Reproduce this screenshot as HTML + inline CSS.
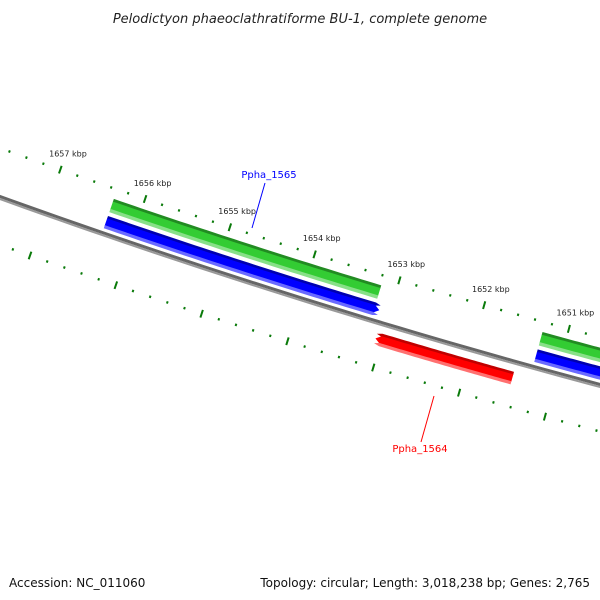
<!DOCTYPE html>
<html><head><meta charset="utf-8"><style>
body{margin:0;background:#fff;}
svg{display:block;font-family:"DejaVu Sans","Liberation Sans",sans-serif;}
</style></head><body>
<svg id="map" width="600" height="600" viewBox="0 0 600 600">
<text x="300" y="23" text-anchor="middle" font-size="13" font-style="italic" fill="#222">Pelodictyon phaeoclathratiforme BU-1, complete genome</text>
<g id="ticks"></g>
<g id="backbone"></g>
<g id="features"></g>
<text x="9" y="587" font-size="12" fill="#111">Accession: NC_011060</text>
<text x="590" y="587" text-anchor="end" font-size="12" fill="#111">Topology: circular; Length: 3,018,238 bp; Genes: 2,765</text>
</svg>
<script>
const majorTicks = [1657, 1656, 1655, 1654, 1653, 1652, 1651];
const tickRange = [1657.6, 1650.4];
const featStart = [1656.33, 1656.33, 1653.01, 1651.28, 1651.28];
const featEnd = [1653.18, 1653.18, 1651.47, 1650.0, 1650.0];
const featTrack = ['gene', 'cds', 'rev', 'gene', 'cds'];
const featNames = ['gene-1565', 'cds-Ppha_1565', 'cds-Ppha_1564', 'gene-1651', 'cds-1651'];
const NS='http://www.w3.org/2000/svg';
function bx(k){return 45+(1657-k)*85.3;}
function fy(x){return 197+0.36*x-0.000078*x*x;}
function slope(x){return 0.36-0.000156*x;}
function pt(k,d){const x=bx(k),s=slope(x),n=Math.sqrt(1+s*s);return [x+d*(-s)/n, fy(x)+d/n];}
function mk(tag,attrs,parent){const e=document.createElementNS(NS,tag);for(const a in attrs)e.setAttribute(a,attrs[a]);parent.appendChild(e);return e;}
const tg=document.getElementById('ticks');
for(let i=0;i<=Math.round((tickRange[0]-tickRange[1])*5);i++){
  const k=tickRange[0]-i*0.2, major=Math.abs(k-Math.round(k))<0.01;
  for(const d of [-46,45]){
    const h=major?4:1.2;const a=pt(k,d-h),b=pt(k,d+h);
    const l=mk('line',{x1:a[0],y1:a[1],x2:b[0],y2:b[1],stroke:'#0a7a0a','stroke-width':2},tg);
    
    
  }
}
majorTicks.forEach(k=>{const p=pt(k,-63);const t=mk('text',{x:p[0]+2,y:p[1]+3,'text-anchor':'middle','font-size':8,fill:'#222'},tg);t.textContent=k+' kbp';
  
  });
function band(k1,k2,d1,d2,fill,g,arrowL,arrowR){
  const pts=[],N=40;
  for(let i=0;i<=N;i++){const k=k1+(k2-k1)*i/N;pts.push(pt(k,d1));}
  if(arrowR){pts.push(pt(k2-0.06,(d1+d2)/2));}
  for(let i=N;i>=0;i--){const k=k1+(k2-k1)*i/N;pts.push(pt(k,d2));}
  if(arrowL){pts.push(pt(k1+0.06,(d1+d2)/2));}
  return mk('polygon',{points:pts.map(p=>p.join(',')).join(' '),fill:fill},g);
}
const bb=document.getElementById('backbone');
band(1657.6,1650.0,-2,1,'#666',bb);band(1657.6,1650.0,1,3,'#999',bb);
const fg=document.getElementById('features');
const styles={gene:{d:[-36,-22],c:['#228b22','#33cc33','#88e088']},cds:{d:[-18,-5],c:['#0000b0','#0000ff','#6a6aff']},rev:{d:[10,23],c:['#c00000','#ff0000','#ff7070']}};
featStart.forEach((s,i)=>{
  const st=styles[featTrack[i]],[d1,d2]=st.d,h=d2-d1;
  const g=mk('g',{},fg);
  
  
  const aL=featTrack[i]==='rev',aR=featTrack[i]==='cds'&&featEnd[i]>1650.5;
  band(s,featEnd[i],d1,d1+h*0.25,st.c[0],g,aL,aR);
  band(s,featEnd[i],d1+h*0.2,d2-h*0.2,st.c[1],g,aL,aR);
  band(s,featEnd[i],d2-h*0.25,d2,st.c[2],g,aL,aR);
});
const l1=mk('line',{x1:265,y1:183,x2:252,y2:228,stroke:'#0000ff','stroke-width':1},fg);


const t1=mk('text',{x:269,y:178,'text-anchor':'middle','font-size':10,fill:'#0000ff'},fg);t1.textContent='Ppha_1565';


const l2=mk('line',{x1:434,y1:396,x2:421,y2:442,stroke:'#ff0000','stroke-width':1},fg);


const t2=mk('text',{x:420,y:452,'text-anchor':'middle','font-size':10,fill:'#ff0000'},fg);t2.textContent='Ppha_1564';


</script>
</body></html>
